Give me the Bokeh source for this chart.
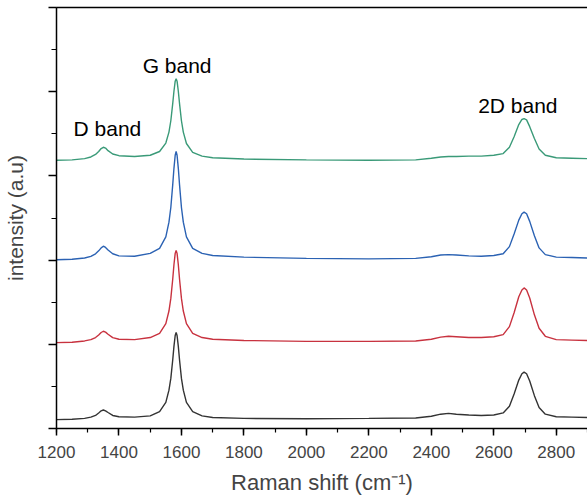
from bokeh.plotting import figure
from bokeh.embed import file_html
from bokeh.resources import INLINE
from bokeh.models import (LinearAxis, FixedTicker, SingleIntervalTicker, Range1d, Label,
                          CustomJSTickFormatter)

# Raman shift sample positions (cm^-1), shared by all spectra
shift = [1200, 1250, 1290, 1310, 1325, 1335, 1343, 1350, 1357, 1365, 1380, 1400, 1450,
         1500, 1530, 1550, 1560, 1566, 1572, 1576, 1580, 1583, 1586, 1590, 1594, 1600,
         1606, 1616, 1636, 1666, 1700, 1800, 2000, 2200, 2350, 2400, 2430, 2455, 2480,
         2520, 2560, 2600, 2630, 2650, 2665, 2680, 2690, 2697, 2705, 2715, 2730, 2745,
         2765, 2800, 2850, 2900]

# intensities (offset traces, arbitrary units)
black = [0.21, 0.22, 0.24, 0.27, 0.31, 0.37, 0.42, 0.44, 0.42, 0.38, 0.31, 0.28, 0.27,
         0.30, 0.40, 0.62, 0.91, 1.19, 1.62, 1.95, 2.21, 2.28, 2.21, 1.95, 1.62, 1.19,
         0.91, 0.62, 0.40, 0.30, 0.26, 0.24, 0.23, 0.24, 0.25, 0.29, 0.34, 0.36, 0.34,
         0.32, 0.31, 0.32, 0.37, 0.53, 0.82, 1.15, 1.30, 1.34, 1.30, 1.13, 0.78, 0.50,
         0.34, 0.28, 0.27, 0.26]
red = [2.04, 2.05, 2.08, 2.11, 2.16, 2.22, 2.28, 2.31, 2.29, 2.24, 2.16, 2.12, 2.11,
       2.16, 2.26, 2.49, 2.79, 3.09, 3.54, 3.89, 4.16, 4.23, 4.16, 3.89, 3.54, 3.09,
       2.79, 2.49, 2.26, 2.16, 2.12, 2.09, 2.07, 2.07, 2.08, 2.12, 2.17, 2.19, 2.18,
       2.16, 2.16, 2.18, 2.23, 2.42, 2.75, 3.13, 3.29, 3.34, 3.29, 3.10, 2.70, 2.38,
       2.19, 2.11, 2.10, 2.09]
blue = [4.01, 4.02, 4.05, 4.09, 4.15, 4.22, 4.29, 4.33, 4.30, 4.24, 4.15, 4.10, 4.09,
        4.16, 4.28, 4.55, 4.90, 5.25, 5.78, 6.18, 6.49, 6.58, 6.49, 6.18, 5.78, 5.25,
        4.90, 4.55, 4.28, 4.16, 4.11, 4.07, 4.04, 4.03, 4.04, 4.08, 4.12, 4.13, 4.12,
        4.10, 4.09, 4.11, 4.15, 4.32, 4.62, 4.95, 5.10, 5.14, 5.10, 4.92, 4.58, 4.29,
        4.13, 4.07, 4.06, 4.05]
green = [6.37, 6.38, 6.41, 6.45, 6.51, 6.58, 6.65, 6.68, 6.66, 6.60, 6.52, 6.48, 6.46,
         6.49, 6.58, 6.78, 7.04, 7.31, 7.71, 8.01, 8.25, 8.31, 8.25, 8.01, 7.71, 7.31,
         7.04, 6.77, 6.56, 6.47, 6.43, 6.40, 6.38, 6.37, 6.38, 6.42, 6.45, 6.46, 6.46,
         6.47, 6.47, 6.49, 6.53, 6.68, 6.93, 7.22, 7.34, 7.36, 7.33, 7.17, 6.89, 6.64,
         6.49, 6.43, 6.42, 6.41]

band_labels = ["D band", "G band", "2D band"]
band_x = [1363, 1586, 2677]
band_y = [7.13, 8.62, 7.67]

series = [(black, "#333333"), (red, "#c8323f"), (blue, "#2b62b3"), (green, "#3a9a78")]

FONT = "Liberation Sans"

p = figure(width=587, height=500, output_backend="svg", toolbar_location=None,
           x_range=Range1d(1200, 2900), y_range=Range1d(0, 10),
           min_border_left=54, min_border_right=0, min_border_top=7, min_border_bottom=72)
p.outline_line_color = None
p.grid.visible = False
p.background_fill_color = "white"
p.border_fill_color = "white"

for ys, c in series:
    p.line(shift, ys, line_color=c, line_width=1.4)

for t, x, y in zip(band_labels, band_x, band_y):
    p.add_layout(Label(x=x, y=y, text=t, text_align="center", text_baseline="middle",
                       text_font=FONT, text_font_size="21px", text_color="black"))

xa = p.xaxis[0]
xa.ticker = SingleIntervalTicker(interval=200, num_minor_ticks=2)
xa.axis_label = "Raman shift (cm\u207b\u00b9)"
xa.axis_label_text_font = FONT
xa.axis_label_text_font_size = "22px"
xa.axis_label_text_font_style = "normal"
xa.axis_label_standoff = 9
xa.major_label_text_font = FONT
xa.major_label_text_font_size = "17px"
xa.major_label_standoff = 10
xa.major_tick_in = 0
xa.major_tick_out = 7
xa.minor_tick_in = 0
xa.minor_tick_out = 4
xa.axis_line_width = 1.5
xa.major_tick_line_width = 1.5
xa.minor_tick_line_width = 1.2

ya = p.yaxis[0]
ya.ticker = SingleIntervalTicker(interval=2, num_minor_ticks=2)
ya.axis_label = "intensity (a.u)"
ya.axis_label_text_font = FONT
ya.axis_label_text_font_size = "21px"
ya.axis_label_text_font_style = "normal"
ya.axis_label_standoff = 22
ya.formatter = CustomJSTickFormatter(code="return ''")
ya.major_label_standoff = 0
ya.major_tick_in = 0
ya.major_tick_out = 8
ya.minor_tick_in = 0
ya.minor_tick_out = 5
ya.axis_line_width = 1.5
ya.major_tick_line_width = 1.5
ya.minor_tick_line_width = 1.2

top = LinearAxis(ticker=FixedTicker(ticks=[]), major_label_text_font_size="0px",
                 major_tick_line_color=None, minor_tick_line_color=None,
                 axis_line_width=1.5)
p.add_layout(top, "above")

open("out.html", "w").write(file_html(p, INLINE))
